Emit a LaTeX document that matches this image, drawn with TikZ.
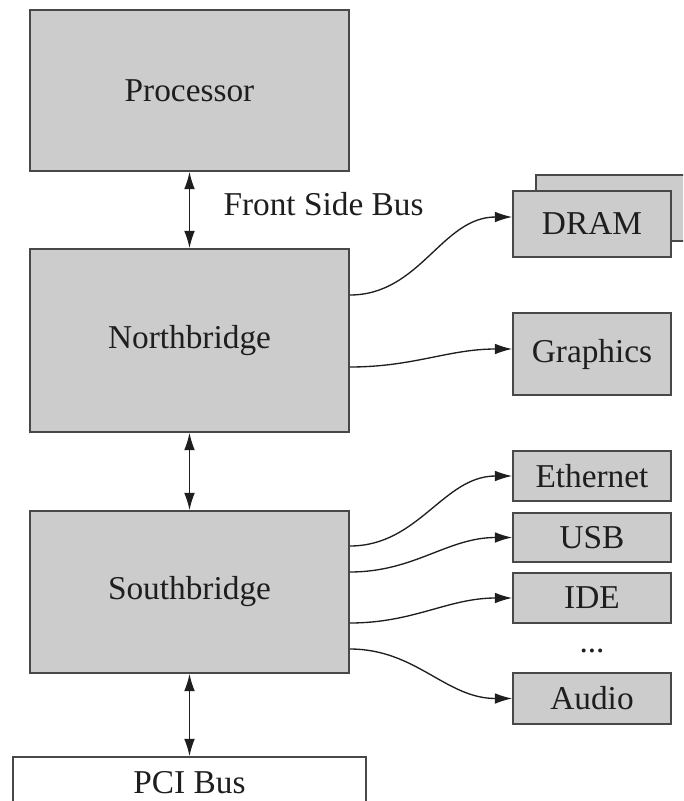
\documentclass[tikz,border=0pt]{standalone}
\usepackage{fontspec}
\setmainfont{Liberation Serif}
\usetikzlibrary{arrows.meta,calc}

\definecolor{chipgray}{RGB}{204,204,204}
\definecolor{chipedge}{RGB}{72,72,72}
\definecolor{inkgray}{RGB}{30,30,30}

\tikzset{every picture/.style={line width=0.75pt}}
\tikzset{
  chip/.style={draw=chipedge, line width=1.2pt, fill=chipgray, inner sep=0pt,
    font=\fontsize{25}{30}\selectfont, text=inkgray},
  busbar/.style={chip, fill=white},
  link/.style={line width=1pt, draw=inkgray, -{Latex[length=13pt,width=8pt]}},
  duplex/.style={line width=1pt, draw=inkgray,
    {Latex[length=13pt,width=8pt]}-{Latex[length=13pt,width=8pt]}}
}

\begin{document}
\begin{tikzpicture}[x=0.75pt,y=0.75pt,yscale=-1,xscale=1]
%set diagram area: 683 wide, 801 high
\clip (0,0) rectangle (683,801);

%Shape: Rectangle [processor]
\node [chip, minimum width=239.25pt, minimum height=120.75pt] (cpu) at (189.5,90.5) {Processor};
%Shape: Rectangle [northbridge]
\node [chip, minimum width=239.25pt, minimum height=137.25pt] (nb) at (189.5,340.5) {Northbridge};
%Shape: Rectangle [southbridge]
\node [chip, minimum width=239.25pt, minimum height=121.5pt] (sb) at (189.5,592) {Southbridge};
%Shape: Rectangle [pci]
\node [busbar, minimum width=264.75pt, minimum height=39pt] (pci) at (189.5,783) {PCI Bus};

%Shape: Rectangle [memory, second module behind]
\node [chip, minimum width=118.5pt, minimum height=49.5pt] (dramback) at (615,208) {};
\node [chip, minimum width=118.5pt, minimum height=49.5pt] (dram) at (592,224) {DRAM};
%Shape: Rectangle [graphics]
\node [chip, minimum width=118.5pt, minimum height=61.5pt] (gfx) at (592,354) {Graphics};

%Shape: Rectangle [devices on southbridge]
\node [chip, minimum width=118.5pt, minimum height=37.5pt] (eth) at (592,476) {Ethernet};
\node [chip, minimum width=118.5pt, minimum height=36.75pt] (usb) at (592,537.5) {USB};
\node [chip, minimum width=118.5pt, minimum height=37.5pt] (ide) at (592,598) {IDE};
\node [chip, minimum width=118.5pt, minimum height=38.25pt] (audio) at (592,698.5) {Audio};
% Text Node
\node [anchor=base, font=\fontsize{25}{30}\selectfont, text=inkgray] (more) at (592,652) {...};

%Straight Lines [buses]
\draw [duplex] (cpu.south) -- (nb.north);
\draw [duplex] (nb.south) -- (sb.north);
\draw [duplex] (sb.south) -- (pci.north);
% Text Node
\node [anchor=base west, inner sep=0pt, font=\fontsize{25}{30}\selectfont, text=inkgray] (fsb) at (223,215) {Front Side Bus};

%Curve Lines [northbridge]
\draw [link] ($(nb.east)+(0,-45.5)$) to[out=0,in=180] ($(dram.west)+(0,-7)$);
\draw [link] ($(nb.east)+(0,26.5)$) to[out=0,in=180] ($(gfx.west)+(0,-5)$);

%Curve Lines [southbridge]
\draw [link] ($(sb.east)+(0,-46)$) to[out=0,in=180] (eth.west);
\draw [link] ($(sb.east)+(0,-20)$) to[out=0,in=180] (usb.west);
\draw [link] ($(sb.east)+(0,31)$) to[out=0,in=180] (ide.west);
\draw [link] ($(sb.east)+(0,57)$) to[out=0,in=180] (audio.west);

\end{tikzpicture}
\end{document}
